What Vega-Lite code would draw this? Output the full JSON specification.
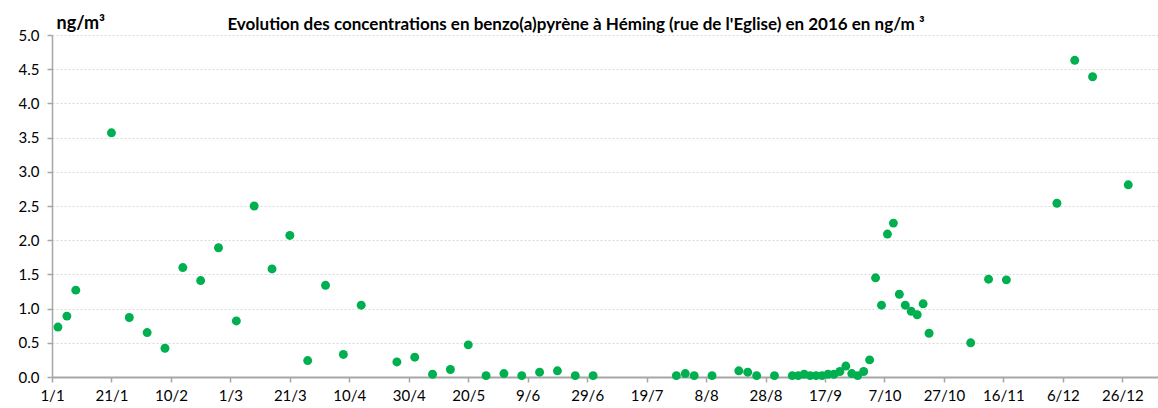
{
  "$schema": "https://vega.github.io/schema/vega-lite/v6.json",
  "width": 1106,
  "height": 342,
  "autosize": "none",
  "padding": {"left": 52, "top": 35, "right": 0, "bottom": 31},
  "background": "white",
  "config": {"view": {"stroke": null}, "font": "Lato"},
  "title": {
    "text": "Evolution des concentrations en benzo(a)pyrène à Héming (rue de l'Eglise) en 2016 en ng/m ³",
    "font": "Lato",
    "fontSize": 17,
    "fontWeight": "bold",
    "color": "#000000",
    "anchor": "middle",
    "dx": -29,
    "dy": 26,
    "offset": 6
  },
  "data": {
    "values": [
      {"date": "2016-01-03", "value": 0.73},
      {"date": "2016-01-06", "value": 0.89},
      {"date": "2016-01-09", "value": 1.27},
      {"date": "2016-01-21", "value": 3.57},
      {"date": "2016-01-27", "value": 0.87},
      {"date": "2016-02-02", "value": 0.65},
      {"date": "2016-02-08", "value": 0.42},
      {"date": "2016-02-14", "value": 1.60},
      {"date": "2016-02-20", "value": 1.41},
      {"date": "2016-02-26", "value": 1.89},
      {"date": "2016-03-03", "value": 0.82},
      {"date": "2016-03-09", "value": 2.50},
      {"date": "2016-03-15", "value": 1.58},
      {"date": "2016-03-21", "value": 2.07},
      {"date": "2016-03-27", "value": 0.24},
      {"date": "2016-04-02", "value": 1.34},
      {"date": "2016-04-08", "value": 0.33},
      {"date": "2016-04-14", "value": 1.05},
      {"date": "2016-04-26", "value": 0.22},
      {"date": "2016-05-02", "value": 0.29},
      {"date": "2016-05-08", "value": 0.04},
      {"date": "2016-05-14", "value": 0.11},
      {"date": "2016-05-20", "value": 0.47},
      {"date": "2016-05-26", "value": 0.02},
      {"date": "2016-06-01", "value": 0.05},
      {"date": "2016-06-07", "value": 0.02},
      {"date": "2016-06-13", "value": 0.07},
      {"date": "2016-06-19", "value": 0.09},
      {"date": "2016-06-25", "value": 0.02},
      {"date": "2016-07-01", "value": 0.02},
      {"date": "2016-07-29", "value": 0.02},
      {"date": "2016-08-01", "value": 0.05},
      {"date": "2016-08-04", "value": 0.02},
      {"date": "2016-08-10", "value": 0.02},
      {"date": "2016-08-19", "value": 0.09},
      {"date": "2016-08-22", "value": 0.07},
      {"date": "2016-08-25", "value": 0.02},
      {"date": "2016-08-31", "value": 0.02},
      {"date": "2016-09-06", "value": 0.02},
      {"date": "2016-09-08", "value": 0.02},
      {"date": "2016-09-10", "value": 0.04},
      {"date": "2016-09-12", "value": 0.02},
      {"date": "2016-09-14", "value": 0.02},
      {"date": "2016-09-16", "value": 0.02},
      {"date": "2016-09-18", "value": 0.04},
      {"date": "2016-09-20", "value": 0.04},
      {"date": "2016-09-22", "value": 0.08},
      {"date": "2016-09-24", "value": 0.16},
      {"date": "2016-09-26", "value": 0.05},
      {"date": "2016-09-28", "value": 0.02},
      {"date": "2016-09-30", "value": 0.08},
      {"date": "2016-10-02", "value": 0.25},
      {"date": "2016-10-04", "value": 1.45},
      {"date": "2016-10-06", "value": 1.05},
      {"date": "2016-10-08", "value": 2.09},
      {"date": "2016-10-10", "value": 2.25},
      {"date": "2016-10-12", "value": 1.21},
      {"date": "2016-10-14", "value": 1.05},
      {"date": "2016-10-16", "value": 0.96},
      {"date": "2016-10-18", "value": 0.91},
      {"date": "2016-10-20", "value": 1.07},
      {"date": "2016-10-22", "value": 0.64},
      {"date": "2016-11-05", "value": 0.50},
      {"date": "2016-11-11", "value": 1.43},
      {"date": "2016-11-17", "value": 1.42},
      {"date": "2016-12-04", "value": 2.54},
      {"date": "2016-12-10", "value": 4.63},
      {"date": "2016-12-16", "value": 4.39},
      {"date": "2016-12-28", "value": 2.81}
    ]
  },
  "mark": {"type": "point", "filled": true, "opacity": 1, "size": 80, "color": "#00b050", "strokeWidth": 0},
  "encoding": {
    "x": {
      "field": "date",
      "type": "temporal",
      "scale": {
        "type": "utc",
        "domain": [
          {"year": 2016, "month": 1, "date": 1, "utc": true},
          {"year": 2017, "month": 1, "date": 7, "utc": true}
        ]
      },
      "axis": {
        "title": null,
        "format": "%-d/%-m",
        "values": [
          {"year": 2016, "month": 1, "date": 1, "utc": true},
          {"year": 2016, "month": 1, "date": 21, "utc": true},
          {"year": 2016, "month": 2, "date": 10, "utc": true},
          {"year": 2016, "month": 3, "date": 1, "utc": true},
          {"year": 2016, "month": 3, "date": 21, "utc": true},
          {"year": 2016, "month": 4, "date": 10, "utc": true},
          {"year": 2016, "month": 4, "date": 30, "utc": true},
          {"year": 2016, "month": 5, "date": 20, "utc": true},
          {"year": 2016, "month": 6, "date": 9, "utc": true},
          {"year": 2016, "month": 6, "date": 29, "utc": true},
          {"year": 2016, "month": 7, "date": 19, "utc": true},
          {"year": 2016, "month": 8, "date": 8, "utc": true},
          {"year": 2016, "month": 8, "date": 28, "utc": true},
          {"year": 2016, "month": 9, "date": 17, "utc": true},
          {"year": 2016, "month": 10, "date": 7, "utc": true},
          {"year": 2016, "month": 10, "date": 27, "utc": true},
          {"year": 2016, "month": 11, "date": 16, "utc": true},
          {"year": 2016, "month": 12, "date": 6, "utc": true},
          {"year": 2016, "month": 12, "date": 26, "utc": true}
        ],
        "grid": false,
        "domainColor": "#a6a6a6",
        "domainWidth": 2,
        "tickColor": "#a6a6a6",
        "tickWidth": 1.5,
        "tickSize": 5,
        "labelFont": "Lato",
        "labelFontSize": 15,
        "labelColor": "#000000",
        "labelPadding": 6,
        "labelFlush": false,
        "labelOverlap": false
      }
    },
    "y": {
      "field": "value",
      "type": "quantitative",
      "scale": {"domain": [0, 5], "nice": false, "zero": true},
      "axis": {
        "title": "ng/m³",
        "titleAngle": 0,
        "titleAlign": "left",
        "titleBaseline": "alphabetic",
        "titleX": 4,
        "titleY": -7,
        "titleFont": "Lato",
        "titleFontSize": 18,
        "titleFontWeight": "bold",
        "titleColor": "#000000",
        "values": [0, 0.5, 1, 1.5, 2, 2.5, 3, 3.5, 4, 4.5, 5],
        "format": ".1f",
        "grid": true,
        "gridColor": "#d9d9d9",
        "gridDash": [2, 2],
        "gridWidth": 1,
        "domainColor": "#a6a6a6",
        "domainWidth": 1.5,
        "tickColor": "#a6a6a6",
        "tickWidth": 1.5,
        "tickSize": 5,
        "labelFont": "Lato",
        "labelFontSize": 15,
        "labelColor": "#000000",
        "labelPadding": 8,
        "labelFlush": false,
        "labelOverlap": false
      }
    }
  }
}
